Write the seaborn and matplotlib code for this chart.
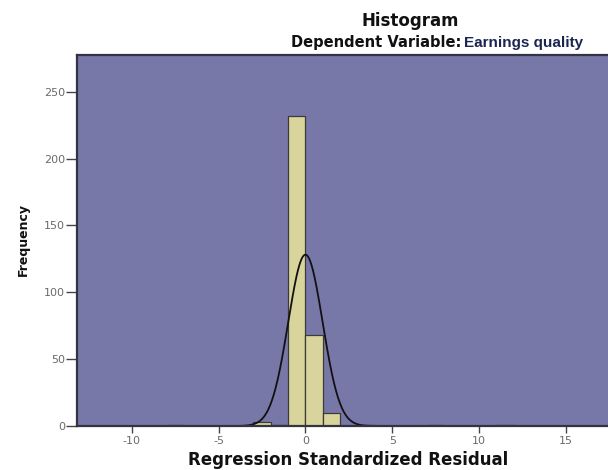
import numpy as np
import pandas as pd
import matplotlib
matplotlib.use("Agg")
import matplotlib.pyplot as plt
import seaborn as sns

# ---- data ----
bin_edges = [-8, -7, -6, -5, -4, -3, -2, -1, 0, 1, 2, 3, 4, 5, 6, 7, 8, 9, 10, 11, 12]
bin_counts = [1, 0, 0, 0, 0, 3, 1, 232, 68, 10, 0, 1, 0, 0, 0, 1, 0, 0, 0, 1]
curve_mean = 0.0
curve_std = 0.99
x_ticks = [-10, -5, 0, 5, 10, 15]
y_ticks = [0, 50, 100, 150, 200, 250]

centers = [(a + b) / 2 for a, b in zip(bin_edges[:-1], bin_edges[1:])]
df = pd.DataFrame({"resid": centers, "count": bin_counts})
n_total = sum(bin_counts)
bin_w = bin_edges[1] - bin_edges[0]

sns.set_theme(style="white")
plt.rcParams["font.family"] = ["DejaVu Sans"]
plt.rcParams["axes.unicode_minus"] = False

fig = plt.figure(figsize=(6.08, 4.70), dpi=100)
ax = fig.add_axes([77 / 608, 1 - 426 / 470, 1 - 77 / 608 + 0.002, (426 - 55) / 470])
ax.set_facecolor("#7878a8")

sns.histplot(data=df, x="resid", weights="count", bins=bin_edges, ax=ax,
             color="#d8d49c", alpha=1.0, edgecolor="#3a3a3a", linewidth=0.9)

xs = np.linspace(-13.2, 17.6, 800)
ys = n_total * bin_w / (curve_std * np.sqrt(2 * np.pi)) * np.exp(-0.5 * ((xs - curve_mean) / curve_std) ** 2)
sns.lineplot(x=xs, y=ys, ax=ax, color="#111111", linewidth=1.3)

ax.set_xlim(-13.16, 17.5)
ax.set_ylim(0, 277.5)
ax.set_xticks(x_ticks)
ax.set_yticks(y_ticks)
ax.tick_params(axis="x", direction="out", length=5, width=1, color="#444444",
               labelsize=8, labelcolor="#6a6a6a", pad=2, bottom=True)
ax.tick_params(axis="y", direction="out", length=8, width=1, color="#444444",
               labelsize=8, labelcolor="#6a6a6a", pad=0.5, left=True)

for side in ["left", "top", "bottom"]:
    ax.spines[side].set_visible(True)
    ax.spines[side].set_color("#333344")
    ax.spines[side].set_linewidth(1.6)
ax.spines["right"].set_visible(False)

ax.set_xlabel("Regression Standardized Residual", fontsize=12, fontweight="bold",
              color="#111111", va="center")
ax.xaxis.set_label_coords((348 - 77) / (608 - 77), -(460 - 426) / (426 - 55))
ax.set_ylabel("Frequency", fontsize=9, fontweight="bold", color="#111111", va="center")
ax.yaxis.set_label_coords(-(77 - 23) / (608 - 77), (426 - 240) / (426 - 55))

fig.text(410 / 608, 1 - 21 / 470, "Histogram", ha="center", va="center",
         fontsize=12, fontweight="bold", color="#111111")
fig.text(291 / 608, 1 - 43 / 470, "Dependent Variable:", ha="left", va="center",
         fontsize=10.5, fontweight="bold", color="#111111")
fig.text(464 / 608, 1 - 43 / 470, "Earnings quality", ha="left", va="center",
         fontsize=11, fontweight="bold", color="#1c2450", family="Liberation Sans")

fig.savefig("out.png", dpi=100, facecolor="white")
